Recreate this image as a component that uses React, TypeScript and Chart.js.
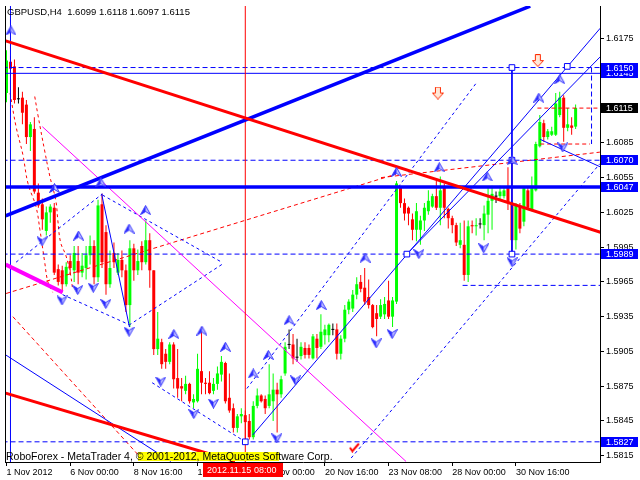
import React, { useEffect, useRef } from "react";
import { Chart, registerables } from "chart.js";

Chart.register(...registerables);

const FONT = "'Liberation Sans', Arial, sans-serif";

// ---- GBPUSD H4 candles (bar index 0..143) ----
const opens = [
  1.6128, 1.6155, 1.6151, 1.6123, 1.6124, 1.6118, 1.6090, 1.6097, 1.6042, 1.6032,
  1.6009, 1.6025, 1.6029, 1.5976, 1.5975, 1.5963, 1.5983, 1.5975, 1.5983, 1.5973,
  1.5977, 1.5988, 1.5996, 1.5969, 1.6032, 1.6008, 1.5963, 1.5990, 1.5973, 1.5984,
  1.5975, 1.5945, 1.5994, 1.5975, 1.5996, 1.5982, 1.6001, 1.5975, 1.5907, 1.5913,
  1.5903, 1.5896, 1.5911, 1.5882, 1.5875, 1.5871, 1.5877, 1.5861, 1.5862, 1.5888,
  1.5878, 1.5878, 1.5871, 1.5877, 1.5885, 1.5895, 1.5865, 1.5856, 1.5839, 1.5849,
  1.5850, 1.5845, 1.5831, 1.5858, 1.5867, 1.5864, 1.5858, 1.5862, 1.5872, 1.5868,
  1.5886, 1.5911, 1.5911, 1.5900, 1.5901, 1.5908, 1.5908, 1.5899, 1.5916, 1.5909,
  1.5919, 1.5919, 1.5924, 1.5924, 1.5903, 1.5916, 1.5941, 1.5942, 1.5954, 1.5965,
  1.5960, 1.5952, 1.5945, 1.5938, 1.5935, 1.5937, 1.5949, 1.5935, 1.5948, 1.6047,
  1.6033, 1.6029, 1.6019, 1.6010, 1.6010, 1.6018, 1.6026, 1.6030, 1.6039, 1.6029,
  1.6047, 1.6028, 1.6020, 1.6014, 1.5997, 1.5997, 1.5971, 1.6014, 1.6013, 1.6015,
  1.6014, 1.6023, 1.6035, 1.6039, 1.6039, 1.6039, 1.6046, 1.6033, 1.6001, 1.6031,
  1.6017, 1.6044, 1.6027, 1.6044, 1.6082, 1.6102, 1.6090, 1.6092, 1.6092, 1.6109,
  1.6124, 1.6098, 1.6100, 1.6099,
];
const highs = [
  1.6165, 1.6160, 1.6157, 1.6133, 1.6129, 1.6122, 1.6103, 1.6107, 1.6050, 1.6037,
  1.6030, 1.6032, 1.6033, 1.5980, 1.5979, 1.5982, 1.5988, 1.5996, 1.5996, 1.5990,
  1.5996, 1.6005, 1.6001, 1.6036, 1.6041, 1.6014, 1.5992, 1.5999, 1.5990, 1.5992,
  1.5980, 1.6001, 1.5998, 1.5993, 1.6000, 1.6018, 1.6007, 1.5975, 1.5939, 1.5916,
  1.5907, 1.5913, 1.5913, 1.5907, 1.5882, 1.5884, 1.5878, 1.5868, 1.5903, 1.5926,
  1.5882, 1.5888, 1.5882, 1.5892, 1.5901, 1.5896, 1.5886, 1.5860, 1.5851, 1.5856,
  1.5854, 1.5851, 1.5862, 1.5873, 1.5868, 1.5867, 1.5894, 1.5886, 1.5878, 1.5884,
  1.5913, 1.5924, 1.5920, 1.5916, 1.5913, 1.5913, 1.5911, 1.5920, 1.5920, 1.5937,
  1.5928, 1.5929, 1.5929, 1.5929, 1.5919, 1.5945, 1.5950, 1.5958, 1.5969, 1.5971,
  1.5977, 1.5967, 1.5946, 1.5945, 1.5950, 1.5952, 1.5966, 1.5952, 1.6052, 1.6048,
  1.6037, 1.6030, 1.6024, 1.6033, 1.6022, 1.6033, 1.6044, 1.6041, 1.6052, 1.6056,
  1.6050, 1.6029, 1.6022, 1.6016, 1.6016, 1.6018, 1.6018, 1.6018, 1.6020, 1.6020,
  1.6031, 1.6047, 1.6048, 1.6043, 1.6048, 1.6047, 1.6064, 1.6069, 1.6033, 1.6033,
  1.6047, 1.6047, 1.6056, 1.6086, 1.6109, 1.6105, 1.6097, 1.6099, 1.6128, 1.6129,
  1.6126, 1.6115, 1.6107, 1.6118,
];
const lows = [
  1.6120, 1.6143, 1.6119, 1.6119, 1.6101, 1.6084, 1.6078, 1.6041, 1.6029, 1.6010,
  1.6005, 1.6016, 1.5971, 1.5962, 1.5956, 1.5961, 1.5971, 1.5965, 1.5963, 1.5969,
  1.5967, 1.5980, 1.5963, 1.5965, 1.5977, 1.5954, 1.5960, 1.5977, 1.5971, 1.5969,
  1.5939, 1.5926, 1.5966, 1.5971, 1.5975, 1.5980, 1.5960, 1.5902, 1.5902, 1.5890,
  1.5890, 1.5894, 1.5873, 1.5865, 1.5862, 1.5868, 1.5860, 1.5856, 1.5861, 1.5868,
  1.5868, 1.5868, 1.5868, 1.5872, 1.5879, 1.5860, 1.5852, 1.5835, 1.5835, 1.5843,
  1.5827, 1.5829, 1.5829, 1.5856, 1.5861, 1.5851, 1.5856, 1.5845, 1.5835, 1.5865,
  1.5884, 1.5907, 1.5894, 1.5896, 1.5898, 1.5899, 1.5899, 1.5898, 1.5899, 1.5907,
  1.5911, 1.5913, 1.5919, 1.5898, 1.5898, 1.5913, 1.5937, 1.5939, 1.5950, 1.5956,
  1.5945, 1.5942, 1.5925, 1.5918, 1.5933, 1.5933, 1.5933, 1.5926, 1.5946, 1.6029,
  1.6018, 1.6014, 1.6001, 1.6000, 1.5997, 1.6009, 1.6023, 1.6029, 1.6027, 1.6014,
  1.6020, 1.6011, 1.6007, 1.5996, 1.5994, 1.5966, 1.5965, 1.6007, 1.6005, 1.6011,
  1.6001, 1.6007, 1.6010, 1.6033, 1.6035, 1.6037, 1.6027, 1.5989, 1.5993, 1.6007,
  1.6013, 1.6027, 1.6026, 1.6043, 1.6081, 1.6086, 1.6088, 1.6091, 1.6091, 1.6107,
  1.6086, 1.6095, 1.6092, 1.6097,
];
const closes = [
  1.6156, 1.6149, 1.6122, 1.6123, 1.6111, 1.6090, 1.6101, 1.6043, 1.6031, 1.6019,
  1.6025, 1.6030, 1.5973, 1.5965, 1.5963, 1.5978, 1.5977, 1.5990, 1.5973, 1.5979,
  1.5988, 1.5996, 1.5969, 1.6031, 1.5982, 1.5963, 1.5977, 1.5982, 1.5984, 1.5975,
  1.5945, 1.5994, 1.5975, 1.5983, 1.5982, 1.6001, 1.5975, 1.5907, 1.5916, 1.5894,
  1.5896, 1.5911, 1.5881, 1.5873, 1.5873, 1.5877, 1.5862, 1.5864, 1.5890, 1.5878,
  1.5877, 1.5869, 1.5877, 1.5886, 1.5896, 1.5862, 1.5854, 1.5839, 1.5849, 1.5851,
  1.5844, 1.5831, 1.5858, 1.5867, 1.5862, 1.5856, 1.5868, 1.5872, 1.5868, 1.5881,
  1.5909, 1.5911, 1.5899, 1.5900, 1.5909, 1.5902, 1.5902, 1.5918, 1.5908, 1.5922,
  1.5924, 1.5928, 1.5924, 1.5903, 1.5916, 1.5941, 1.5948, 1.5954, 1.5963, 1.5959,
  1.5948, 1.5945, 1.5926, 1.5933, 1.5945, 1.5946, 1.5935, 1.5949, 1.6050, 1.6033,
  1.6024, 1.6024, 1.6010, 1.6026, 1.6018, 1.6029, 1.6035, 1.6039, 1.6029, 1.6044,
  1.6029, 1.6020, 1.6014, 1.5999, 1.6001, 1.5971, 1.6013, 1.6013, 1.6014, 1.6015,
  1.6024, 1.6035, 1.6041, 1.6039, 1.6043, 1.6044, 1.6033, 1.6001, 1.6031, 1.6011,
  1.6046, 1.6029, 1.6048, 1.6084, 1.6103, 1.6090, 1.6095, 1.6095, 1.6119, 1.6124,
  1.6098, 1.6101, 1.6098, 1.6115,
];

// ---- axes ----
const xTickBars = [0, 16, 32, 48, 64, 80, 96, 112, 128];
const xTickLabels = [
  "1 Nov 2012", "6 Nov 00:00", "8 Nov 16:00", "13 Nov 08:00", "16 Nov 00:00",
  "20 Nov 16:00", "23 Nov 08:00", "28 Nov 00:00", "30 Nov 16:00",
];
const yTicks = [
  1.5815, 1.5845, 1.5875, 1.5905, 1.5935, 1.5965, 1.5995, 1.6025, 1.6055, 1.6085,
  1.6115, 1.6145, 1.6175,
];
const X_MIN = -0.125;
const X_MAX = 149.125;
const Y_MIN = 1.580958;
const Y_MAX = 1.620311;

// price labels on the right axis: [price, colour]
const priceLabelValues = [1.6145, 1.615, 1.6115, 1.607, 1.6047, 1.5989, 1.5827];
const priceLabelColors = ["#0000ff", "#0000ff", "#000000", "#0000ff", "#0000ff", "#0000ff", "#0000ff"];

// ---- drawn objects (bar index, price) ----
type Seg = [number, number, number, number];
const thickRedLines: Seg[] = [
  [-0.2, 1.6173, 150, 1.6007],
  [-0.2, 1.5869, 57.4, 1.581],
];
const thickBlueLines: Seg[] = [
  [-0.2, 1.6022, 131.6, 1.6203],
  [-1, 1.6047, 151, 1.6047],
];
const thickMagentaLines: Seg[] = [[-0.2, 1.598, 14.1, 1.5956]];
const thinMagentaLines: Seg[] = [[9.0, 1.6099, 100.4, 1.581]];
const thinRedLines: Seg[] = [[60, 1.58, 60, 1.621]];
const thinBlueLines: Seg[] = [
  [1, 1.58, 1, 1.621],
  [-1, 1.6145, 151, 1.6145],
  [127, 1.615, 127, 1.5989],
  [-0.2, 1.5902, 41.3, 1.581],
  [23.9, 1.6041, 30.9, 1.5926],
  [61.9, 1.5833, 149.2, 1.6184],
  [100.55, 1.5989, 149.1, 1.6159],
  [134.1, 1.6088, 150, 1.6063],
];
const blueDashH: Seg[] = [
  [-1, 1.615, 151, 1.615],
  [-1, 1.607, 151, 1.607],
  [-1, 1.5989, 151, 1.5989],
  [-1, 1.5827, 151, 1.5827],
  [114.6, 1.5962, 151, 1.5962],
  [147, 1.615, 147, 1.6084],
];
const blueDashDiag: Seg[] = [
  [2.4, 1.5982, 24.1, 1.6041],
  [24.1, 1.604, 54.1, 1.5982],
  [54.1, 1.598, 30.9, 1.5928],
  [14.1, 1.5954, 30.9, 1.5928],
  [36.6, 1.5878, 60, 1.5827],
  [60.4, 1.5873, 117.9, 1.6136],
  [86.6, 1.5813, 149.1, 1.6067],
];
const redDash: Seg[] = [
  [-0.1, 1.5955, 97.9, 1.6058],
  [94.1, 1.6055, 149.1, 1.6077],
  [133.4, 1.6115, 150, 1.6115],
  [134.1, 1.6084, 146.6, 1.6084],
  [1.6, 1.5935, 34.6, 1.581],
];
const ellipseLeftX = [0.9, 2.4, 4.1, 5.4, 7.4, 8.4, 9.6, 10.4, 11.6];
const ellipseLeftY = [1.6128, 1.6099, 1.6075, 1.605, 1.603, 1.601, 1.5982, 1.5965, 1.5956];
const ellipseRightX = [7.1, 7.9, 9.6, 10.9, 12.4, 12.9, 13.6, 14.9, 16.1, 16.6];
const ellipseRightY = [1.6125, 1.6109, 1.6078, 1.6056, 1.6035, 1.6018, 1.5999, 1.5988, 1.5971, 1.5959];

const upArrowX = [1.1, 12.05, 23.7, 18.1, 30.8, 34.95, 42.05, 49.1, 55.0, 62.0, 65.8, 71.0, 79.1, 90.1, 98.0, 108.75, 120.8, 127.05, 133.75, 139.0];
const upArrowY = [1.6182, 1.6046, 1.6051, 1.6005, 1.6011, 1.6027, 1.592, 1.5923, 1.5909, 1.5886, 1.5902, 1.5932, 1.5945, 1.5986, 1.606, 1.6064, 1.6056, 1.607, 1.6124, 1.614];
const downArrowX = [8.95, 13.95, 17.9, 21.8, 24.95, 30.8, 38.75, 47.05, 52.0, 67.9, 72.6, 92.9, 96.9, 103.6, 119.9, 127.05, 139.75];
const downArrowY = [1.6, 1.5949, 1.5958, 1.596, 1.5946, 1.5922, 1.5879, 1.5851, 1.586, 1.583, 1.588, 1.5912, 1.592, 1.5989, 1.5994, 1.5982, 1.6081];
const squareX = [127, 127, 127, 140.9, 100.6, 60];
const squareY = [1.615, 1.607, 1.5989, 1.6151, 1.5989, 1.5827];
const redArrowX = [108.4, 133.5];
const redArrowY = [1.6128, 1.6156];
const checkX = [87.4];
const checkY = [1.5822];

const TITLE = "GBPUSD,H4  1.6099 1.6118 1.6097 1.6115";
const COPYRIGHT = "RoboForex - MetaTrader 4, \u00A9 2001-2012, MetaQuotes Software Corp.";
const VLINE_LABEL = "2012.11.15 08:00";

function makeArrow(up: boolean): HTMLCanvasElement {
  const c = document.createElement("canvas");
  c.width = 11;
  c.height = 10;
  const g = c.getContext("2d")!;
  if (!up) {
    g.translate(0, 10);
    g.scale(1, -1);
  }
  g.beginPath();
  g.moveTo(5.5, 0.5);
  g.lineTo(10.5, 9.5);
  g.lineTo(5.5, 6.5);
  g.lineTo(0.5, 9.5);
  g.closePath();
  g.fillStyle = "#c4c4ff";
  g.fill();
  g.beginPath();
  g.moveTo(5.5, 0.5);
  g.lineTo(5.5, 6.5);
  g.lineTo(0.5, 9.5);
  g.closePath();
  g.fillStyle = "#2a2aff";
  g.fill();
  g.beginPath();
  g.moveTo(5.5, 0.5);
  g.lineTo(10.5, 9.5);
  g.lineTo(5.5, 6.5);
  g.lineTo(0.5, 9.5);
  g.closePath();
  g.strokeStyle = "#3333ff";
  g.lineWidth = 1;
  g.stroke();
  return c;
}

function makeRedArrow(): HTMLCanvasElement {
  const c = document.createElement("canvas");
  c.width = 12;
  c.height = 13;
  const g = c.getContext("2d")!;
  g.beginPath();
  g.moveTo(3.5, 0.5);
  g.lineTo(8.5, 0.5);
  g.lineTo(8.5, 6.5);
  g.lineTo(11.5, 6.5);
  g.lineTo(6, 12.5);
  g.lineTo(0.5, 6.5);
  g.lineTo(3.5, 6.5);
  g.closePath();
  g.fillStyle = "#ffe8d8";
  g.fill();
  g.strokeStyle = "#ff2a00";
  g.lineWidth = 1;
  g.stroke();
  return c;
}

function makeCheck(): HTMLCanvasElement {
  const c = document.createElement("canvas");
  c.width = 11;
  c.height = 10;
  const g = c.getContext("2d")!;
  g.beginPath();
  g.moveTo(1, 5);
  g.lineTo(3.5, 8.5);
  g.lineTo(10, 1);
  g.strokeStyle = "#ff0000";
  g.lineWidth = 2;
  g.stroke();
  return c;
}

function segDatasets(segs: Seg[], color: string, width: number, dash: number[], order: number) {
  return segs.map((s) => ({
    type: "line" as const,
    data: [
      { x: s[0], y: s[1] },
      { x: s[2], y: s[3] },
    ],
    borderColor: color,
    borderWidth: width,
    borderDash: dash,
    borderCapStyle: "butt" as const,
    pointRadius: 0,
    fill: false,
    tension: 0,
    order,
  }));
}

function zipPts(xs: number[], ys: number[]) {
  return xs.map((x, i) => ({ x, y: ys[i] }));
}

export default function App() {
  const ref = useRef<HTMLCanvasElement>(null);

  useEffect(() => {
    const canvas = ref.current;
    if (!canvas) return;

    const up = makeArrow(true);
    const down = makeArrow(false);
    const redArrow = makeRedArrow();
    const check = makeCheck();

    const bull = "#00ff00";
    const bear = "#ff0000";
    const doji = "#000000";
    const colors = opens.map((o, i) =>
      closes[i] > o ? bull : closes[i] < o ? bear : doji
    );
    const wickData = opens.map((_, i) => ({ x: i, y: [lows[i], highs[i]] }));
    const bodyData = opens.map((o, i) => {
      const c = closes[i];
      if (c === o) return { x: i, y: [o - 0.00004, o + 0.00004] };
      return { x: i, y: [Math.min(o, c), Math.max(o, c)] };
    });

    const overlay = {
      id: "overlay",
      afterDraw(chart: any) {
        const ctx = chart.ctx as CanvasRenderingContext2D;
        const a = chart.chartArea;
        const ys = chart.scales.y;
        ctx.save();
        // left border
        ctx.strokeStyle = "#000";
        ctx.lineWidth = 1;
        ctx.beginPath();
        ctx.moveTo(a.left - 0.5, a.top);
        ctx.lineTo(a.left - 0.5, a.bottom + 1);
        ctx.stroke();
        // title
        ctx.fillStyle = "#000";
        ctx.font = `9.5px ${FONT}`;
        ctx.textBaseline = "alphabetic";
        ctx.textAlign = "left";
        ctx.fillText(TITLE, 7, 15);
        // copyright with yellow highlight
        ctx.fillStyle = "#ffff00";
        ctx.fillRect(138, 452, 141, 9);
        ctx.fillStyle = "#000";
        ctx.font = `10.5px ${FONT}`;
        ctx.fillText(COPYRIGHT, 6, 460);
        // price labels
        ctx.font = `9px ${FONT}`;
        ctx.textBaseline = "middle";
        priceLabelValues.forEach((v, k) => {
          const py = Math.round(ys.getPixelForValue(v));
          ctx.fillStyle = priceLabelColors[k];
          ctx.fillRect(601, py - 5, 37, 10);
          ctx.fillStyle = "#fff";
          ctx.fillText(v.toFixed(4), 606, py + 0.5);
        });
        // vertical line date label
        ctx.fillStyle = "#ff0000";
        ctx.fillRect(203, 463, 80, 14);
        ctx.fillStyle = "#fff";
        ctx.fillText(VLINE_LABEL, 207, 470.5);
        ctx.restore();
      },
    };

    const datasets: any[] = [
      {
        type: "bar",
        data: wickData,
        backgroundColor: colors,
        barThickness: 1,
        grouped: false,
        inflateAmount: 0,
        borderWidth: 0,
        order: 30,
      },
      {
        type: "bar",
        data: bodyData,
        backgroundColor: colors,
        barThickness: 3,
        grouped: false,
        inflateAmount: 0,
        borderWidth: 0,
        minBarLength: 1,
        order: 29,
      },
      ...segDatasets(blueDashH, "#0000ff", 1, [5, 3], 12),
      ...segDatasets(blueDashDiag, "#0000ff", 1, [3, 3], 12),
      ...segDatasets(redDash, "#ff0000", 1, [4, 3], 12),
      {
        type: "line",
        data: zipPts(ellipseLeftX, ellipseLeftY),
        borderColor: "#ff0000",
        borderWidth: 1,
        borderDash: [3, 3],
        pointRadius: 0,
        tension: 0.4,
        order: 12,
      },
      {
        type: "line",
        data: zipPts(ellipseRightX, ellipseRightY),
        borderColor: "#ff0000",
        borderWidth: 1,
        borderDash: [3, 3],
        pointRadius: 0,
        tension: 0.4,
        order: 12,
      },
      ...segDatasets(thinRedLines, "#ff0000", 1, [], 11),
      ...segDatasets(thinBlueLines, "#0000ff", 1, [], 11),
      ...segDatasets(thinMagentaLines, "#ff00ff", 1, [], 11),
      ...segDatasets(thickMagentaLines, "#ff00ff", 4, [], 10),
      ...segDatasets(thickRedLines, "#ff0000", 3, [], 10),
      ...segDatasets(thickBlueLines, "#0000ff", 3.5, [], 10),
      {
        type: "scatter",
        data: zipPts(squareX, squareY),
        pointStyle: "rect",
        pointRadius: 4,
        borderColor: "#0000ff",
        backgroundColor: "#ffffff",
        borderWidth: 1,
        order: 3,
      },
      {
        type: "scatter",
        data: zipPts(upArrowX, upArrowY),
        pointStyle: up,
        pointRadius: 5,
        order: 2,
      },
      {
        type: "scatter",
        data: zipPts(downArrowX, downArrowY),
        pointStyle: down,
        pointRadius: 5,
        order: 2,
      },
      {
        type: "scatter",
        data: zipPts(redArrowX, redArrowY),
        pointStyle: redArrow,
        pointRadius: 5,
        order: 2,
      },
      {
        type: "scatter",
        data: zipPts(checkX, checkY),
        pointStyle: check,
        pointRadius: 5,
        order: 2,
      },
    ];

    const chart = new Chart(canvas, {
      type: "bar",
      data: { datasets },
      options: {
        responsive: false,
        animation: false,
        events: [],
        devicePixelRatio: 1,
        layout: { padding: { left: 3, top: 0, right: 0, bottom: 0 } },
        plugins: {
          legend: { display: false },
          tooltip: { enabled: false },
          title: { display: false },
        },
        scales: {
          x: {
            type: "linear",
            min: X_MIN,
            max: X_MAX,
            offset: false,
            afterBuildTicks: (s: any) => {
              s.ticks = xTickBars.map((v) => ({ value: v }));
            },
            afterFit: (s: any) => {
              s.height = 18;
              s.paddingLeft = 0;
              s.paddingRight = 0;
            },
            ticks: {
              autoSkip: false,
              maxRotation: 0,
              minRotation: 0,
              align: "start",
              padding: 1,
              color: "#000",
              font: { family: FONT, size: 9 },
              callback: (v: any) => {
                const k = xTickBars.indexOf(Number(v));
                return k >= 0 ? xTickLabels[k] : "";
              },
            },
            grid: {
              display: true,
              drawOnChartArea: false,
              drawTicks: true,
              tickLength: 4,
              color: "#000",
              offset: false,
            },
            border: { display: true, color: "#000" },
          },
          y: {
            type: "linear",
            position: "right",
            min: Y_MIN,
            max: Y_MAX,
            beginAtZero: false,
            afterBuildTicks: (s: any) => {
              s.ticks = yTicks.map((v) => ({ value: v }));
            },
            afterFit: (s: any) => {
              s.width = 40;
              s.paddingTop = 0;
              s.paddingBottom = 0;
            },
            ticks: {
              autoSkip: false,
              padding: 2,
              color: "#000",
              font: { family: FONT, size: 9 },
              callback: (v: any) => Number(v).toFixed(4),
            },
            grid: {
              display: true,
              drawOnChartArea: false,
              drawTicks: true,
              tickLength: 4,
              color: "#000",
            },
            border: { display: true, color: "#000" },
          },
        },
      } as any,
      plugins: [overlay],
    });

    return () => chart.destroy();
  }, []);

  return (
    <div style={{ position: "fixed", left: 0, top: 0, width: 640, height: 480, background: "#fff" }}>
      <canvas ref={ref} width={640} height={480} style={{ display: "block", width: 640, height: 480 }} />
    </div>
  );
}
